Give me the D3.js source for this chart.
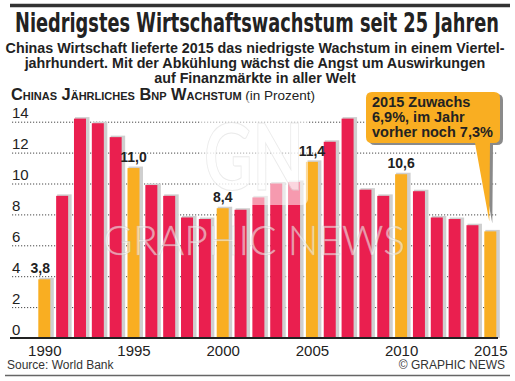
<!DOCTYPE html>
<html>
<head>
<meta charset="utf-8">
<script src="https://d3js.org/d3.v7.min.js"></script>
<style>
  body { margin: 0; background: #fff; }
  svg { display: block; font-family: "Liberation Sans", Arial, sans-serif; }
  .grid line { stroke: #333; stroke-dasharray: 1.2 1.8; stroke-width: 0.9; }
  .grid .domain { stroke: none; }
  .grid text { font-size: 15px; fill: #222; }
  .xaxis .domain, .xaxis line { stroke: none; }
  .xaxis text { font-size: 15px; fill: #222; }
</style>
</head>
<body>
<svg id="chart" width="515" height="381"></svg>
<script>
// data
const years = d3.range(1990, 2016);
const growth = [3.8, 9.2, 14.2, 13.9, 13.0, 11.0, 9.9, 9.2, 7.8, 7.7,
                8.4, 8.3, 9.1, 10.0, 10.1, 11.4, 12.7, 14.2, 9.6, 9.2,
                10.6, 9.5, 7.8, 7.7, 7.3, 6.9];
const highlightYears = [1990, 1995, 2000, 2005, 2010, 2015];
const labelYears = [1990, 1995, 2000, 2005, 2010];
const yTicks = [0, 2, 4, 6, 8, 10, 12, 14];
const xTicks = [1990, 1995, 2000, 2005, 2010, 2015];
const subtitle = [
  "Chinas Wirtschaft lieferte 2015 das niedrigste Wachstum in einem Viertel-",
  "jahrhundert. Mit der Abkühlung wächst die Angst um Auswirkungen",
  "auf Finanzmärkte in aller Welt"
];
const calloutLines = ["2015 Zuwachs", "6,9%, im Jahr", "vorher noch 7,3%"];

const data = years.map((y, i) => ({year: y, value: growth[i]}));

const svg = d3.select('svg#chart');
const red = '#ea1f4f', orange = '#f9ae22';

// top rule + title
svg.append('line').attr('x1', 10).attr('x2', 510).attr('y1', 5.5).attr('y2', 5.5)
  .attr('stroke', '#333').attr('stroke-width', 3.5);

svg.append('text')
  .attr('x', 15).attr('y', 32)
  .attr('textLength', 484).attr('lengthAdjust', 'spacingAndGlyphs')
  .style('font-family', '"Liberation Sans Narrow", "DejaVu Sans Condensed", sans-serif')
  .style('font-weight', 'bold').style('font-size', '26px').style('fill', '#222')
  .text('Niedrigstes Wirtschaftswachstum seit 25 Jahren');

svg.selectAll('text.sub').data(subtitle).join('text')
  .attr('class', 'sub')
  .attr('x', 255).attr('y', (d, i) => 53 + i * 15)
  .attr('text-anchor', 'middle')
  .style('font-weight', 'bold').style('font-size', '14.3px').style('fill', '#222')
  .text(d => d);

// chart heading with small caps
let head = svg.append('text').attr('x', 11).attr('y', 100).style('fill', '#222');
head.append('tspan').style('font-weight', 'bold').style('font-variant', 'small-caps')
  .style('font-size', '16.4px').text('Chinas Jährliches Bnp Wachstum');
head.append('tspan').style('font-size', '13.5px').text(' (in Prozent)');

// scales
const y = d3.scaleLinear().domain([0, 14]).range([338, 121.7]);
const x = d3.scaleLinear().domain([1990, 2015]).range([44.3, 490.3]);
const barW = 12;

// gridlines
let gridAxis = d3.axisLeft(y).tickValues(yTicks).tickSize(-486).tickFormat(d => d);
let grid = svg.append('g').attr('class', 'grid')
  .attr('transform', 'translate(12,0)')
  .call(gridAxis);
grid.selectAll('.tick text')
  .attr('x', 0).attr('dy', -4).attr('text-anchor', 'start');
grid.selectAll('.tick').filter(d => d === 0).select('line').remove();

// bars with a light shadow
let bars = svg.append('g');
bars.selectAll('rect.shadow').data(data).join('rect')
  .attr('class', 'shadow')
  .attr('x', d => x(d.year) - barW / 2 + 1)
  .attr('y', d => y(d.value) - 1.5)
  .attr('width', barW + 2.5)
  .attr('height', d => y(0) - y(d.value) + 1.5)
  .attr('fill', '#cfcfcf');
bars.selectAll('rect.bar').data(data).join('rect')
  .attr('class', 'bar')
  .attr('x', d => x(d.year) - barW / 2)
  .attr('y', d => y(d.value))
  .attr('width', barW)
  .attr('height', d => y(0) - y(d.value))
  .attr('fill', d => highlightYears.includes(d.year) ? orange : red);

// watermark (under the labels)
let wm = svg.append('g').style('pointer-events', 'none');
wm.append('rect').attr('x', 200).attr('y', 100).attr('width', 108).attr('height', 105)
  .attr('rx', 6).attr('fill', '#fff').attr('opacity', 0.55);
wm.append('text').attr('x', 254).attr('y', 190).attr('text-anchor', 'middle')
  .style('font-family', 'Lato, "Open Sans", sans-serif').style('font-weight', 'bold')
  .style('font-size', '92px').attr('fill', '#fff').attr('opacity', 0.6)
  .attr('stroke', '#ddd').attr('stroke-width', 1)
  .attr('textLength', 100).attr('lengthAdjust', 'spacingAndGlyphs')
  .text('GN');
wm.append('text').attr('x', 103).attr('y', 255)
  .attr('textLength', 302).attr('lengthAdjust', 'spacingAndGlyphs')
  .style('font-family', 'Lato, "Open Sans", sans-serif').style('font-weight', '300')
  .style('font-size', '42px').attr('fill', '#fff').attr('fill-opacity', 0.55)
  .attr('stroke', '#bbb').attr('stroke-opacity', 0.5).attr('stroke-width', 0.6)
  .text('GRAPHIC NEWS');

// value labels
svg.selectAll('text.val').data(data.filter(d => labelYears.includes(d.year))).join('text')
  .attr('class', 'val')
  .attr('x', d => d.year === 1990 ? x(d.year) - 4 : x(d.year))
  .attr('y', d => y(d.value) - 6)
  .attr('text-anchor', 'middle')
  .style('font-weight', 'bold').style('font-size', '14px').style('fill', '#222')
  .text(d => d3.format('.1f')(d.value).replace('.', ','));

// baseline
svg.append('line').attr('x1', 10).attr('x2', 498).attr('y1', y(0)).attr('y2', y(0))
  .attr('stroke', '#222').attr('stroke-width', 2);

// x axis
let xAxis = d3.axisBottom(x).tickValues(xTicks).tickFormat(d3.format('d')).tickSize(0);
svg.append('g').attr('class', 'xaxis')
  .attr('transform', `translate(0,${y(0) + 4})`)
  .call(xAxis);

// callout box with pointer to the 2015 bar
const last = data[data.length - 1];
const tipX = x(last.year) - 1, tipY = y(last.value) - 10;
function calloutPath(dx, dy) {
  const p = d3.path();
  const l = 366 + dx, r = 500 + dx, t = 92 + dy, b = 143 + dy, rr = 6;
  p.moveTo(l + rr, t);
  p.lineTo(r - rr, t); p.quadraticCurveTo(r, t, r, t + rr);
  p.lineTo(r, b - rr); p.quadraticCurveTo(r, b, r - rr, b);
  p.lineTo(490 + dx, b); p.lineTo(tipX + dx, tipY + dy); p.lineTo(475 + dx, b);
  p.lineTo(l + rr, b); p.quadraticCurveTo(l, b, l, b - rr);
  p.lineTo(l, t + rr); p.quadraticCurveTo(l, t, l + rr, t);
  p.closePath();
  return p.toString();
}
svg.append('path').attr('d', calloutPath(3, 2)).attr('fill', '#8a8a8a');
svg.append('path').attr('d', calloutPath(0, 0)).attr('fill', orange);
svg.selectAll('text.call').data(calloutLines).join('text')
  .attr('class', 'call')
  .attr('x', 372).attr('y', (d, i) => 107 + i * 15)
  .style('font-weight', 'bold').style('font-size', '14.5px').style('fill', '#222')
  .text(d => d);

// footer
svg.append('text').attr('x', 7).attr('y', 369).style('font-size', '12px').style('fill', '#333')
  .text('Source: World Bank');
svg.append('text').attr('x', 505).attr('y', 369).attr('text-anchor', 'end')
  .style('font-size', '12px').style('fill', '#333').text('© GRAPHIC NEWS');
svg.append('line').attr('x1', 5).attr('x2', 510).attr('y1', 375.5).attr('y2', 375.5)
  .attr('stroke', '#666').attr('stroke-width', 1.5);
</script>
</body>
</html>
